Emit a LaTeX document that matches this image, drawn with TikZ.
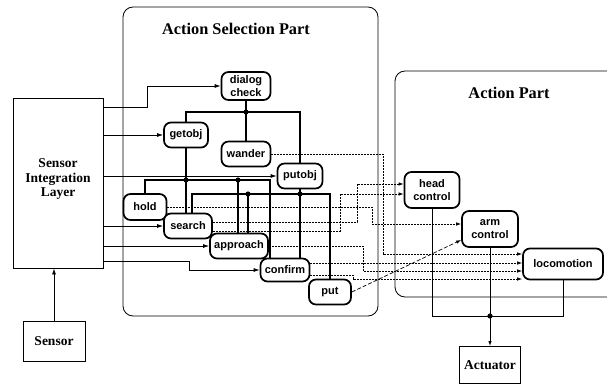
\documentclass[tikz,border=0pt]{standalone}
\usepackage{fontspec}
\setmainfont{Liberation Serif}
\setsansfont{Liberation Sans}
\usetikzlibrary{arrows.meta}

\begin{document}
\begin{tikzpicture}[x=1pt,y=-1pt,
	module/.style={draw,line width=1.7pt,rounded corners=7pt,fill=white,inner sep=0pt,minimum height=25pt,align=center,font=\sffamily\bfseries\fontsize{11}{12.5}\selectfont},
	block/.style={draw,line width=0.9pt,inner sep=0pt,align=center,font=\bfseries\fontsize{13.5}{14.5}\selectfont},
	title/.style={font=\bfseries\fontsize{16.3}{18}\selectfont},
	net/.style={line width=1.5pt},
	feed/.style={line width=0.8pt,-{Latex[length=6pt,width=4pt]}},
	cmd/.style={line width=0.7pt,dash pattern=on 2pt off 1pt,-{Latex[length=5pt,width=3.5pt]}}]
		\useasboundingbox (0,0) rectangle (607,385);
		% the two parts
		\draw[line width=0.8pt,rounded corners=10pt] (123,7) rectangle (378,316);
		\draw[line width=0.8pt,rounded corners=10pt] (607,71) -- (395,71) -- (395,297) -- (607,297);
		\node[title] (aspt) at (236,29) {Action Selection Part};
		\node[title] (apt) at (509,93) {Action Part};
		% blocks
		\node[block,minimum width=90pt,minimum height=170pt] (sil) at (58,183) {Sensor\\Integration\\Layer\\[-4pt]};
		\node[block,minimum width=62pt,minimum height=40pt] (sensor) at (54,341) {Sensor};
		\node[block,minimum width=61pt,minimum height=37pt] (act) at (490,365) {Actuator};
		% modules
		\node[module,minimum width=49pt,minimum height=28pt] (dlg) at (246,86) {dialog\\check};
		\node[module,minimum width=44pt] (getobj) at (186,135) {getobj};
		\node[module,minimum width=49pt] (wander) at (246,154) {wander};
		\node[module,minimum width=45pt] (putobj) at (300,176) {putobj};
		\node[module,minimum width=43pt,minimum height=26pt] (hold) at (145,207) {hold};
		\node[module,minimum width=48pt] (search) at (188,226) {search};
		\node[module,minimum width=58pt] (approach) at (239,246) {approach};
		\node[module,minimum width=49pt,minimum height=23pt] (confirm) at (285,270) {confirm};
		\node[module,minimum width=42pt] (put) at (330,292) {put};
		\node[module,minimum width=55pt,minimum height=36pt] (head) at (432,190) {head\\control};
		\node[module,minimum width=56pt,minimum height=36pt] (arm) at (490,229) {arm\\control};
		\node[module,minimum width=80pt,minimum height=31pt] (loco) at (563,264) {locomotion};
		% junctions
		\coordinate (j1) at (dlg.south |- 0,112);
		\coordinate (j2) at (getobj.south |- 0,180);
		\coordinate (j3) at (238,180);
		\coordinate (j4) at (248,194);
		\coordinate (j5) at (putobj.south |- 0,194);
		\coordinate (j6) at (arm.south |- 0,316);
		% sensor inputs
		\draw[feed] (sensor.north) -- (sensor.north |- sil.south);
		\draw[feed] (sil.east |- 0,107) -- (147,107) |- (dlg.west);
		\draw[feed] (sil.east |- getobj) -- (getobj.west);
		\draw[feed] (sil.east |- putobj) -- (putobj.west);
		\draw[feed] (sil.east |- search) -- (search.west);
		\draw[feed] (sil.east |- approach) -- (approach.west);
		\draw[feed] (sil.east |- 0,261) -- (189,261) |- (confirm.west);
		% suppression network
		\draw[net] (dlg.south) -- (j1) -- (wander.north);
		\draw[net] (getobj.north) |- (j1) -| (putobj.north);
		\draw[net] (getobj.south) -- (j2) -- (search.north -| j2);
		\draw[net] (hold.north) |- (j2) -- (j3) -| ([xshift=-15pt]confirm.north);
		\draw[net] (j3) -- (approach.north -| j3);
		\draw[net] (putobj.south) -- (j5) -- (j4) -| ([xshift=4pt]search.north);
		\draw[net] (j4) -- (approach.north -| j4);
		\draw[net] (j5) -- (confirm.north -| j5);
		\draw[net] (j5) -| (put.north);
		% commands to the action part
		\draw[cmd] (wander.east) -| (383,254) -- (loco.west |- 0,254);
		\draw[cmd] (hold.east) -| (372,224) -- (arm.west |- 0,224);
		\draw[cmd] (search.east |- 0,222) -| (357,184) -- (head.west |- 0,184);
		\draw[cmd] (search.east |- 0,231) -| (340,194) -- (head.west |- 0,194);
		\draw[cmd] (approach.east) -| (363,271) -- (loco.west |- 0,271);
		\draw[cmd] (confirm.east |- 0,263) -- (loco.west |- 0,263);
		\draw[cmd] (confirm.east |- 0,275) -| (353,279) -- (loco.west |- 0,279);
		\draw[cmd,dash pattern=on 4pt off 2pt] (put.east) -- (arm.west |- 0,240);
		% to the actuator
		\draw[line width=0.9pt] (head.south) |- (loco.south |- j6) -- (loco.south);
		\draw[line width=0.9pt,-{Latex[length=5pt,width=3.5pt]}] (arm.south) -- (act.north);
		\foreach \j in {1,...,6} \fill (j\j) circle (2.6pt);
\end{tikzpicture}
\end{document}
